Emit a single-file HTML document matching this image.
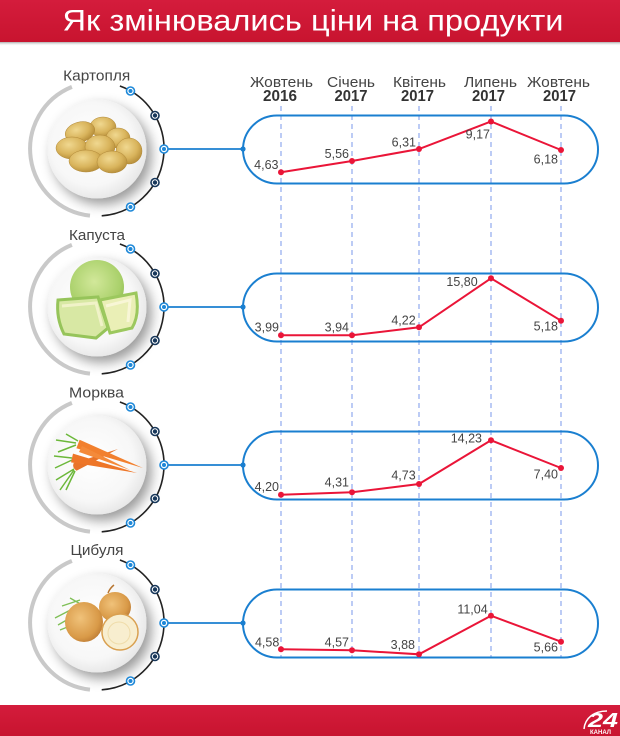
<!DOCTYPE html>
<html>
<head>
<meta charset="utf-8">
<style>
html,body{margin:0;padding:0;background:#fff;}
body{width:620px;height:736px;overflow:hidden;}
svg{display:block;}
text{font-family:"Liberation Sans","DejaVu Sans",sans-serif;}
</style>
</head>
<body>
<svg width="620" height="736" viewBox="0 0 620 736" xmlns="http://www.w3.org/2000/svg">
<defs>
  <linearGradient id="red" x1="0" y1="0" x2="0" y2="1">
    <stop offset="0" stop-color="#d41c3c"/>
    <stop offset="1" stop-color="#c8142f"/>
  </linearGradient>
  <linearGradient id="shd" x1="0" y1="0" x2="0" y2="1">
    <stop offset="0" stop-color="#888" stop-opacity="0.7"/>
    <stop offset="1" stop-color="#fff" stop-opacity="0"/>
  </linearGradient>
  <radialGradient id="plate" cx="0.45" cy="0.45" r="0.6">
    <stop offset="0" stop-color="#ffffff"/>
    <stop offset="0.7" stop-color="#f7f7f7"/>
    <stop offset="1" stop-color="#e4e4e4"/>
  </radialGradient>
  <radialGradient id="pot" cx="0.4" cy="0.35" r="0.7">
    <stop offset="0" stop-color="#f0d890"/>
    <stop offset="0.6" stop-color="#d9b45c"/>
    <stop offset="1" stop-color="#b38a36"/>
  </radialGradient>
  <radialGradient id="onion" cx="0.4" cy="0.4" r="0.7">
    <stop offset="0" stop-color="#f0c27a"/>
    <stop offset="0.7" stop-color="#d99a48"/>
    <stop offset="1" stop-color="#b77530"/>
  </radialGradient>
  <radialGradient id="cab" cx="0.45" cy="0.4" r="0.7">
    <stop offset="0" stop-color="#d2e89a"/>
    <stop offset="0.7" stop-color="#a9d06a"/>
    <stop offset="1" stop-color="#86b648"/>
  </radialGradient>
  <filter id="ds" x="-30%" y="-30%" width="170%" height="170%">
    <feDropShadow dx="5" dy="6" stdDeviation="6" flood-color="#000" flood-opacity="0.4"/>
  </filter>
  <g id="frame">
    <path d="M90 66.6 A67 67 0 0 1 71.9 -62.1" fill="none" stroke="#c9c9c9" stroke-width="4"/>
    <path d="M119.9 -63 A67 67 0 0 1 101.7 66.8" fill="none" stroke="#222" stroke-width="1.6"/>
    <circle cx="97" cy="0" r="49.5" fill="url(#plate)" filter="url(#ds)"/>
    <line x1="164" y1="0" x2="243" y2="0" stroke="#1a7fd0" stroke-width="1.8"/>
    <circle cx="243" cy="0" r="2.6" fill="#1a7fd0"/>
    <g fill="#fff" stroke-width="1.6">
      <circle cx="130.5" cy="-58" r="4" stroke="#1e88d8"/>
      <circle cx="155" cy="-33.5" r="4" stroke="#17375a"/>
      <circle cx="164" cy="0" r="4" stroke="#1e88d8"/>
      <circle cx="155" cy="33.5" r="4" stroke="#17375a"/>
      <circle cx="130.5" cy="58" r="4" stroke="#1e88d8"/>
    </g>
    <circle cx="130.5" cy="-58" r="2" fill="#1e88d8"/>
    <circle cx="155" cy="-33.5" r="2.2" fill="#17375a"/>
    <circle cx="164" cy="0" r="2" fill="#1e88d8"/>
    <circle cx="155" cy="33.5" r="2.2" fill="#17375a"/>
    <circle cx="130.5" cy="58" r="2" fill="#1e88d8"/>
  </g>
</defs>

<!-- header -->
<rect x="0" y="42" width="620" height="4" fill="url(#shd)"/>
<rect x="0" y="0" width="620" height="42" fill="url(#red)"/>
<text x="62.5" y="30.7" font-size="30" fill="#fff" textLength="501" lengthAdjust="spacingAndGlyphs">Як змінювались ціни на продукти</text>

<!-- footer -->
<rect x="0" y="705" width="620" height="31" fill="url(#red)"/>
<path d="M584 729 C585 718 594 711 607 711" fill="none" stroke="#fff" stroke-width="1.5"/>
<text x="588" y="727" font-size="20" font-weight="bold" font-style="italic" fill="#fff" textLength="30" lengthAdjust="spacingAndGlyphs">24</text>
<text x="590" y="734" font-size="6" font-weight="bold" fill="#fff" textLength="21" lengthAdjust="spacingAndGlyphs">КАНАЛ</text>

<!-- month headers -->
<g font-size="15" fill="#444" text-anchor="middle">
  <text x="281.5" y="87" textLength="63" lengthAdjust="spacingAndGlyphs">Жовтень</text>
  <text x="351" y="87" textLength="48" lengthAdjust="spacingAndGlyphs">Січень</text>
  <text x="419.5" y="87" textLength="53" lengthAdjust="spacingAndGlyphs">Квітень</text>
  <text x="490.5" y="87" textLength="53" lengthAdjust="spacingAndGlyphs">Липень</text>
  <text x="558.5" y="87" textLength="63" lengthAdjust="spacingAndGlyphs">Жовтень</text>
</g>
<g font-size="15.5" font-weight="bold" fill="#333" text-anchor="middle">
  <text x="280" y="101" textLength="34" lengthAdjust="spacingAndGlyphs">2016</text>
  <text x="351" y="101" textLength="33" lengthAdjust="spacingAndGlyphs">2017</text>
  <text x="417.5" y="101" textLength="33" lengthAdjust="spacingAndGlyphs">2017</text>
  <text x="488.5" y="101" textLength="33" lengthAdjust="spacingAndGlyphs">2017</text>
  <text x="559.5" y="101" textLength="33" lengthAdjust="spacingAndGlyphs">2017</text>
</g>

<!-- frames -->
<use href="#frame" transform="translate(0,149)"/>
<use href="#frame" transform="translate(0,307)"/>
<use href="#frame" transform="translate(0,465)"/>
<use href="#frame" transform="translate(0,623)"/>

<!-- product labels -->
<g font-size="14.5" fill="#444" text-anchor="middle">
  <text x="96.7" y="80.7" textLength="67" lengthAdjust="spacingAndGlyphs">Картопля</text>
  <text x="97" y="240" textLength="56" lengthAdjust="spacingAndGlyphs">Капуста</text>
  <text x="96.5" y="397.7" textLength="55" lengthAdjust="spacingAndGlyphs">Морква</text>
  <text x="97" y="555" textLength="53" lengthAdjust="spacingAndGlyphs">Цибуля</text>
</g>

<!-- potatoes -->
<g fill="url(#pot)" stroke="#b08838" stroke-width="0.5">
  <ellipse cx="103" cy="127" rx="13" ry="10"/>
  <ellipse cx="118" cy="138" rx="12" ry="10"/>
  <ellipse cx="80" cy="132" rx="15" ry="10" transform="rotate(-15 80 132)"/>
  <ellipse cx="72" cy="148" rx="16" ry="11"/>
  <ellipse cx="100" cy="147" rx="15" ry="12"/>
  <ellipse cx="129" cy="151" rx="13" ry="13"/>
  <ellipse cx="86" cy="161" rx="17" ry="11"/>
  <ellipse cx="112" cy="162" rx="15" ry="11"/>
</g>

<!-- cabbage -->
<circle cx="97" cy="287" r="27" fill="url(#cab)"/>
<path d="M58 300 L98 297 L108 328 L96 338 L64 334 Q56 318 58 300 Z" fill="#d8e8a4" stroke="#96c45a" stroke-width="3"/>
<path d="M62 306 L96 303 L102 326" fill="none" stroke="#f0f2c8" stroke-width="3"/>
<path d="M100 300 L136 293 Q140 315 132 328 L110 333 Z" fill="#eaefb6" stroke="#9cc85e" stroke-width="3"/>
<path d="M106 306 L130 300 L128 322" fill="none" stroke="#f8f6d6" stroke-width="3"/>

<!-- carrots -->
<g stroke="#6cb83a" stroke-width="1.5" fill="none">
  <path d="M76 443 L56 440 M76 445 L58 452 M72 458 L54 456 M72 460 L55 468 M74 469 L56 480 M74 470 L60 490 M75 471 L66 490 M78 441 L66 434"/>
</g>
<path d="M73.5 463.3 L118 449 L76.5 470.7 Q72 468 73.5 463.3 Z" fill="#e8742a"/>
<path d="M76.4 448.2 L79.6 439.8 L143 468 Z" fill="#f2802e"/>
<path d="M71 462.4 L73 453.6 L137 473 Z" fill="#ee7628"/>
<path d="M79 452 L82 446 L130 470 Z" fill="#f48a3a"/>

<!-- onions -->
<g stroke="#7fbf56" stroke-width="1.3" fill="none">
  <path d="M55 618 L82 604 M58 625 L84 610 M60 630 L80 622 M62 606 L80 600 M70 598 L84 606"/>
</g>
<ellipse cx="115" cy="607" rx="16" ry="15" fill="url(#onion)"/>
<path d="M108 593 Q110 588 114 585" stroke="#b77530" stroke-width="1.5" fill="none"/>
<ellipse cx="84" cy="622" rx="19" ry="20" fill="url(#onion)"/>
<ellipse cx="120" cy="632" rx="18" ry="18" fill="#f8eecf" stroke="#d9a050" stroke-width="1.5"/>
<ellipse cx="119" cy="633" rx="11" ry="11" fill="none" stroke="#efdcaa" stroke-width="1"/>

<!-- dashed verticals -->
<g stroke="#8fa9ee" stroke-width="1.2" stroke-dasharray="5 4">
  <line x1="281" y1="106" x2="281" y2="658"/>
  <line x1="352" y1="106" x2="352" y2="658"/>
  <line x1="419" y1="106" x2="419" y2="658"/>
  <line x1="491" y1="106" x2="491" y2="658"/>
  <line x1="561" y1="106" x2="561" y2="658"/>
</g>

<!-- pills -->
<g fill="none" stroke="#1a7fd0" stroke-width="2">
  <rect x="243" y="115.5" width="355" height="68" rx="34" ry="34"/>
  <rect x="243" y="273.5" width="355" height="68" rx="34" ry="34"/>
  <rect x="243" y="431.5" width="355" height="68" rx="34" ry="34"/>
  <rect x="243" y="589.5" width="355" height="68" rx="34" ry="34"/>
</g>

<!-- series -->
<g fill="none" stroke="#ea1538" stroke-width="2">
  <polyline points="281,172.3 352,161 419,149 491,121.5 561,150"/>
  <polyline points="281,335.3 352,335.3 419,327.3 491,278.3 561,320.7"/>
  <polyline points="281,494.7 352,492.3 419,484 491,440.3 561,468"/>
  <polyline points="281,649.3 352,650.3 419,654.3 491,615.7 561,641.7"/>
</g>
<g fill="#ea1538">
  <circle cx="281" cy="172.3" r="3"/><circle cx="352" cy="161" r="3"/><circle cx="419" cy="149" r="3"/><circle cx="491" cy="121.5" r="3"/><circle cx="561" cy="150" r="3"/>
  <circle cx="281" cy="335.3" r="3"/><circle cx="352" cy="335.3" r="3"/><circle cx="419" cy="327.3" r="3"/><circle cx="491" cy="278.3" r="3"/><circle cx="561" cy="320.7" r="3"/>
  <circle cx="281" cy="494.7" r="3"/><circle cx="352" cy="492.3" r="3"/><circle cx="419" cy="484" r="3"/><circle cx="491" cy="440.3" r="3"/><circle cx="561" cy="468" r="3"/>
  <circle cx="281" cy="649.3" r="3"/><circle cx="352" cy="650.3" r="3"/><circle cx="419" cy="654.3" r="3"/><circle cx="491" cy="615.7" r="3"/><circle cx="561" cy="641.7" r="3"/>
</g>

<!-- value labels -->
<g font-size="12.5" fill="#444" text-anchor="end">
  <text x="278.5" y="169">4,63</text>
  <text x="349" y="158">5,56</text>
  <text x="416" y="146.7">6,31</text>
  <text x="490" y="138.3">9,17</text>
  <text x="558" y="163.3">6,18</text>

  <text x="279" y="331.7">3,99</text>
  <text x="349" y="331.7">3,94</text>
  <text x="415.7" y="324.3">4,22</text>
  <text x="477.7" y="286">15,80</text>
  <text x="558" y="330.7">5,18</text>

  <text x="279" y="491">4,20</text>
  <text x="349" y="486.7">4,31</text>
  <text x="415.7" y="479.3">4,73</text>
  <text x="482" y="442.7">14,23</text>
  <text x="558" y="478.3">7,40</text>

  <text x="279.3" y="646.7">4,58</text>
  <text x="349" y="646.7">4,57</text>
  <text x="415" y="649">3,88</text>
  <text x="487.7" y="613.3">11,04</text>
  <text x="558" y="651.7">5,66</text>
</g>
</svg>
</body>
</html>
